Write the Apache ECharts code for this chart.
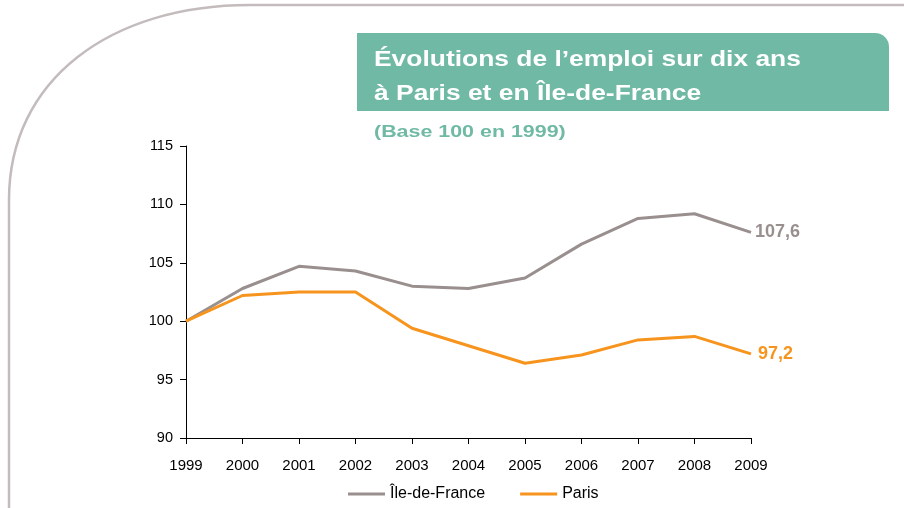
<!DOCTYPE html>
<html><head><meta charset="utf-8">
<script src="https://cdn.jsdelivr.net/npm/echarts@6/dist/echarts.min.js"></script>
<style>html,body{margin:0;padding:0;background:#fff}#c{width:904px;height:508px}</style>
</head><body><div id="c"></div>
<script>
var years = ['1999','2000','2001','2002','2003','2004','2005','2006','2007','2008','2009'];
var idf = [100, 102.8, 104.7, 104.3, 103.0, 102.8, 103.7, 106.6, 108.8, 109.2, 107.6];
var paris = [100, 102.2, 102.5, 102.5, 99.4, 97.9, 96.4, 97.1, 98.4, 98.7, 97.2];
var seriesNames = ['Île-de-France', 'Paris'];
var titleLines = ['Évolutions de l’emploi sur dix ans', 'à Paris et en Île-de-France'];
var subtitle = '(Base 100 en 1999)';

var chart = echarts.init(document.getElementById('c'));
var font = '"Liberation Sans", Arial, sans-serif';
var frameStyle = {fill: null, stroke: '#c4bcbc', lineWidth: 2.5};
function endFmt(p){ return String(p.value).replace('.', ','); }
chart.setOption({
  animation: false,
  textStyle: {fontFamily: font},
  grid: {left: 186, right: 153, top: 146, bottom: 70},
  legend: {
    top: 481, left: 343,
    itemWidth: 37, itemHeight: 3, itemGap: 35,
    icon: 'rect',
    textStyle: {fontSize: 16, color: '#000', fontFamily: font},
    data: seriesNames
  },
  xAxis: {
    type: 'category', data: years, boundaryGap: false,
    axisLine: {lineStyle: {color: '#000', width: 1}},
    axisTick: {show: true, length: 6, lineStyle: {color: '#000'}, alignWithLabel: true},
    axisLabel: {color: '#000', fontSize: 15, margin: 20, fontFamily: font}
  },
  yAxis: {
    type: 'value', min: 90, max: 115, interval: 5,
    axisLine: {show: true, lineStyle: {color: '#000', width: 1}},
    axisTick: {show: true, length: 6, lineStyle: {color: '#000'}},
    splitLine: {show: false},
    axisLabel: {color: '#000', fontSize: 14.5, margin: 13, fontFamily: font}
  },
  series: [
    {name: seriesNames[0], type: 'line', data: idf, symbol: 'none',
     itemStyle: {color: '#9a8f8f'}, lineStyle: {color: '#9a8f8f', width: 3},
     endLabel: {show: true, formatter: endFmt,
       color: '#9a8f8f', fontSize: 18, fontWeight: 'bold', distance: 4, fontFamily: font}},
    {name: seriesNames[1], type: 'line', data: paris, symbol: 'none',
     itemStyle: {color: '#f7941d'}, lineStyle: {color: '#f7941d', width: 3},
     endLabel: {show: true, formatter: endFmt,
       color: '#f7941d', fontSize: 18, fontWeight: 'bold', distance: 7, fontFamily: font}}
  ],
  graphic: [
    {type: 'line', z: -1, shape: {x1: 9, y1: 510, x2: 9, y2: 200}, style: frameStyle},
    {type: 'bezierCurve', z: -1, shape: {x1: 9, y1: 200, cpx1: 9, cpy1: 80, cpx2: 110, cpy2: 5, x2: 250, y2: 5}, style: frameStyle},
    {type: 'line', z: -1, shape: {x1: 250, y1: 5, x2: 906, y2: 5}, style: frameStyle},
    {type: 'rect', shape: {x: 357, y: 33, width: 532, height: 78, r: [0, 14, 0, 0]},
     style: {fill: '#70b9a5'}},
    {type: 'text', x: 374, y: 60, scaleX: 1.2, style: {text: titleLines[0], fill: '#fff', font: 'bold 22px ' + font, verticalAlign: 'middle'}},
    {type: 'text', x: 374, y: 94, scaleX: 1.2, style: {text: titleLines[1], fill: '#fff', font: 'bold 22px ' + font, verticalAlign: 'middle'}},
    {type: 'text', x: 374, y: 132, scaleX: 1.26, style: {text: subtitle, fill: '#70b9a5', font: 'bold 17px ' + font, verticalAlign: 'middle'}}
  ]
});
</script></body></html>
